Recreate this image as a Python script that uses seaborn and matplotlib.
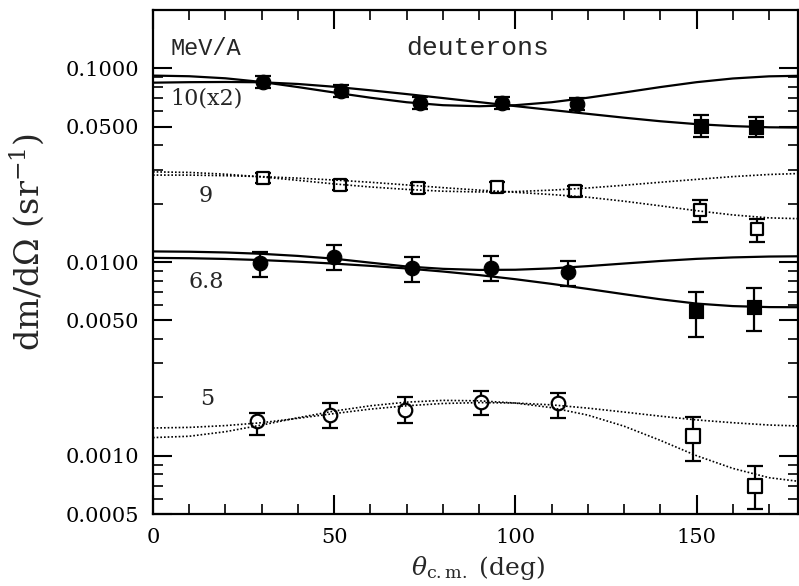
import numpy as np
import pandas as pd
import matplotlib
matplotlib.use("Agg")
import matplotlib.pyplot as plt
import seaborn as sns
from matplotlib.ticker import FixedLocator, LogLocator, NullFormatter, FuncFormatter, MultipleLocator

# ---------------- data ----------------
theta_grid = [0, 10, 20, 30, 40, 50, 60, 70, 80, 90, 100, 110, 120, 130, 140, 150, 160, 170, 180]

# 10 MeV/A (x2) fits (solid)
fit10_sym = [0.0917, 0.0910, 0.0888, 0.0850, 0.0800, 0.0750, 0.0705, 0.0668, 0.0645, 0.0637,
             0.0645, 0.0668, 0.0705, 0.0750, 0.0800, 0.0848, 0.0886, 0.0909, 0.0916]
fit10_fall = [0.0843, 0.0848, 0.0850, 0.0847, 0.0830, 0.0803, 0.0770, 0.0736, 0.0702, 0.0669,
              0.0638, 0.0609, 0.0582, 0.0556, 0.0533, 0.0515, 0.0503, 0.0496, 0.0494]
# 9 MeV/A fits (dotted)
fit9_sym = [0.0292, 0.0290, 0.0284, 0.0275, 0.0264, 0.0253, 0.0244, 0.0237, 0.0232, 0.0230,
            0.0231, 0.0235, 0.0241, 0.0249, 0.0258, 0.0267, 0.0276, 0.0283, 0.0287]
fit9_fall = [0.0281, 0.0281, 0.0279, 0.0276, 0.0271, 0.0265, 0.0258, 0.0250, 0.0242, 0.0235,
             0.0229, 0.0223, 0.0216, 0.0206, 0.0195, 0.0184, 0.0175, 0.0169, 0.0167]
# 6.8 MeV/A fits (solid)
fit68_sym = [0.01134, 0.01130, 0.01120, 0.01102, 0.01075, 0.01040, 0.00992, 0.00948, 0.00922, 0.00910,
             0.00912, 0.00927, 0.00952, 0.00982, 0.01012, 0.01038, 0.01056, 0.01067, 0.01071]
fit68_fall = [0.01050, 0.01046, 0.01037, 0.01023, 0.01004, 0.00981, 0.00955, 0.00926, 0.00893, 0.00856,
              0.00815, 0.00771, 0.00726, 0.00682, 0.00642, 0.00610, 0.00592, 0.00585, 0.00584]
# 5 MeV/A fits (dotted)
fit5_sym = [0.00139, 0.00140, 0.00143, 0.00148, 0.00156, 0.00165, 0.00174, 0.00181, 0.00186, 0.00188,
            0.00187, 0.00183, 0.00176, 0.00168, 0.00160, 0.00153, 0.00148, 0.00144, 0.00142]
fit5_fall = [0.00124, 0.00126, 0.00133, 0.00144, 0.00157, 0.00170, 0.00181, 0.00189, 0.00193, 0.00192,
             0.00187, 0.00177, 0.00162, 0.00142, 0.00120, 0.00100, 0.00086, 0.00077, 0.00073]

# data points: circles (forward) and squares (backward)
c10_theta = [30.3, 51.8, 73.8, 96.3, 117.1]
c10_val = [0.0853, 0.0763, 0.0664, 0.0664, 0.0653]
c10_lo = [0.0790, 0.0708, 0.0616, 0.0616, 0.0606]
c10_hi = [0.0918, 0.0821, 0.0714, 0.0714, 0.0702]
s10_theta = [151.1, 166.3]
s10_val = [0.0503, 0.0495]
s10_lo = [0.0440, 0.0440]
s10_hi = [0.0573, 0.0562]

c9_theta = [30.3, 51.6, 73.0, 95.0, 116.4]
c9_val = [0.0272, 0.0249, 0.0241, 0.0244, 0.0233]
c9_lo = [0.0256, 0.0235, 0.0227, 0.0230, 0.0219]
c9_hi = [0.0289, 0.0264, 0.0256, 0.0259, 0.0247]
s9_theta = [150.9, 166.6]
s9_val = [0.0185, 0.0148]
s9_lo = [0.0160, 0.0127]
s9_hi = [0.0208, 0.0166]

c68_theta = [29.5, 50.0, 71.6, 93.2, 114.5]
c68_val = [0.00984, 0.01057, 0.00927, 0.00930, 0.00885]
c68_lo = [0.0084, 0.0091, 0.0079, 0.0080, 0.0075]
c68_hi = [0.0113, 0.0123, 0.0106, 0.0107, 0.0101]
s68_theta = [149.9, 165.8]
s68_val = [0.00560, 0.00586]
s68_lo = [0.00410, 0.00439]
s68_hi = [0.00700, 0.00730]

c5_theta = [28.8, 48.8, 69.5, 90.4, 111.8]
c5_val = [0.00151, 0.00163, 0.00173, 0.00189, 0.00188]
c5_lo = [0.00128, 0.00139, 0.00147, 0.00162, 0.00157]
c5_hi = [0.00167, 0.00186, 0.00200, 0.00215, 0.00211]
s5_theta = [149.0, 166.2]
s5_val = [0.00126, 0.00070]
s5_lo = [0.00094, 0.00053]
s5_hi = [0.00159, 0.00088]

y_major = [0.0005, 0.001, 0.005, 0.01, 0.05, 0.1]
x_major = [0, 50, 100, 150]

# ---------------- figure ----------------
sns.set_theme(style="ticks")
plt.rcParams['font.family'] = ['DejaVu Serif']
plt.rcParams['mathtext.fontset'] = 'dejavuserif'

fig = plt.figure(figsize=(7.99, 5.86), dpi=100)
ax = fig.add_axes([153 / 799, 72 / 586, 645 / 799, 504 / 586])
ax.set_yscale('log')

# error bars
for th, v, lo, hi in [(c10_theta, c10_val, c10_lo, c10_hi), (s10_theta, s10_val, s10_lo, s10_hi),
                      (c9_theta, c9_val, c9_lo, c9_hi), (s9_theta, s9_val, s9_lo, s9_hi),
                      (c68_theta, c68_val, c68_lo, c68_hi), (s68_theta, s68_val, s68_lo, s68_hi),
                      (c5_theta, c5_val, c5_lo, c5_hi), (s5_theta, s5_val, s5_lo, s5_hi)]:
    v = np.array(v); lo = np.array(lo); hi = np.array(hi)
    ax.errorbar(th, v, yerr=[v - lo, hi - v], fmt='none', ecolor='black',
                elinewidth=1.6, capsize=5.5, capthick=1.6, zorder=2)

# markers
sns.scatterplot(x=c10_theta, y=c10_val, marker='o', s=110, color='black', edgecolor='black', ax=ax, zorder=3)
sns.scatterplot(x=s10_theta, y=s10_val, marker='s', s=110, color='black', edgecolor='black', ax=ax, zorder=3)
sns.scatterplot(x=c68_theta, y=c68_val, marker='o', s=110, color='black', edgecolor='black', ax=ax, zorder=3)
sns.scatterplot(x=s68_theta, y=s68_val, marker='s', s=110, color='black', edgecolor='black', ax=ax, zorder=3)
sns.scatterplot(x=c9_theta, y=c9_val, marker='s', s=75, color='white', edgecolor='black', linewidth=1.6, ax=ax, zorder=3)
sns.scatterplot(x=s9_theta, y=s9_val, marker='s', s=85, color='white', edgecolor='black', linewidth=1.6, ax=ax, zorder=3)
sns.scatterplot(x=c5_theta, y=c5_val, marker='o', s=95, color='white', edgecolor='black', linewidth=1.6, ax=ax, zorder=3)
sns.scatterplot(x=s5_theta, y=s5_val, marker='s', s=95, color='white', edgecolor='black', linewidth=1.6, ax=ax, zorder=3)

# fit curves
for vals in [fit10_sym, fit10_fall, fit68_sym, fit68_fall]:
    sns.lineplot(x=theta_grid, y=vals, color='black', linewidth=1.6, ax=ax, zorder=4)
for vals in [fit9_sym, fit9_fall, fit5_sym, fit5_fall]:
    sns.lineplot(x=theta_grid, y=vals, color='black', linewidth=1.2, linestyle=(0, (1, 1.2)), ax=ax, zorder=4)

ax.set_xlim(0, 178)
ax.set_ylim(0.0005, 0.2)

ax.xaxis.set_major_locator(FixedLocator(x_major))
ax.xaxis.set_minor_locator(MultipleLocator(10))
ax.yaxis.set_major_locator(FixedLocator(y_major))
ax.yaxis.set_minor_locator(LogLocator(base=10, subs=[2, 3, 4, 6, 7, 8, 9], numticks=50))
ax.yaxis.set_minor_formatter(NullFormatter())
ax.yaxis.set_major_formatter(FuncFormatter(lambda v, p: f"{v:.4f}"))

ax.tick_params(which='both', direction='in', top=True, right=True, colors='black')
ax.tick_params(which='major', length=14, width=1.5, labelsize=15, pad=10)
ax.tick_params(which='minor', length=7, width=1.2)
for sp in ax.spines.values():
    sp.set_linewidth(1.6)
    sp.set_color('black')

ax.set_xlabel('')
ax.set_ylabel('')

# annotations
ax.text(4.9, 0.117, 'MeV/A', family='Liberation Mono', fontsize=17, va='baseline', ha='left')
ax.text(89.5, 0.117, 'deuterons', family='Liberation Mono', fontsize=19, va='baseline', ha='center')
ax.text(4.9, 0.0700, '10(x2)', fontsize=16, va='center', ha='left')
ax.text(14.5, 0.0218, '9', fontsize=16, va='center', ha='center')
ax.text(14.8, 0.0079, '6.8', fontsize=16, va='center', ha='center')
ax.text(15.0, 0.00196, '5', fontsize=16, va='center', ha='center')

fig.text(27 / 799, 1 - 242 / 586, r'dm/d$\Omega$ (sr$^{-1}$)', rotation=90, ha='center', va='center', fontsize=24)
fig.text(478 / 799, 1 - 568 / 586, r'$\theta_{\rm c.m.}$ (deg)', ha='center', va='center', fontsize=18)

fig.savefig('out.png', dpi=100)
